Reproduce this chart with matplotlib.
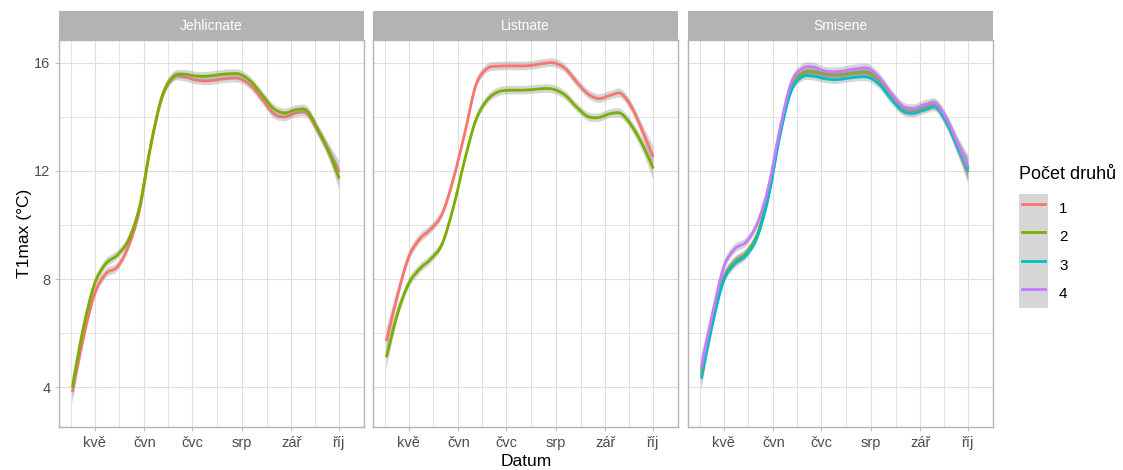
import numpy as np
import matplotlib
matplotlib.use("Agg")
import matplotlib.pyplot as plt
import matplotlib.dates as mdates
from matplotlib.lines import Line2D
from matplotlib.patches import Patch, PathPatch
from matplotlib.path import Path
from matplotlib.legend_handler import HandlerTuple, HandlerLine2D

plt.rcParams['font.family'] = ['Liberation Sans', 'DejaVu Sans']

# weekly read-offs of the smoothed curves
dates = np.array(['2021-04-17', '2021-04-24', '2021-05-01', '2021-05-08', '2021-05-15',
                  '2021-05-22', '2021-05-29', '2021-06-05', '2021-06-12', '2021-06-19',
                  '2021-06-26', '2021-07-03', '2021-07-10', '2021-07-17', '2021-07-24',
                  '2021-07-31', '2021-08-07', '2021-08-14', '2021-08-21', '2021-08-28',
                  '2021-09-04', '2021-09-11', '2021-09-18', '2021-09-25', '2021-10-01'],
                 dtype='datetime64[D]')

jehl_1 = [3.81, 5.85, 7.46, 8.20, 8.44, 9.19, 10.54, 12.90, 14.70, 15.45, 15.48, 15.37, 15.33,
          15.38, 15.43, 15.41, 15.14, 14.64, 14.12, 14.00, 14.15, 14.12, 13.44, 12.70, 11.96]
jehl_2 = [3.98, 6.22, 7.83, 8.57, 8.88, 9.43, 10.67, 12.94, 14.74, 15.48, 15.58, 15.52, 15.51,
          15.56, 15.60, 15.58, 15.30, 14.80, 14.31, 14.15, 14.27, 14.22, 13.50, 12.64, 11.72]

list_1 = [5.70, 7.40, 8.81, 9.49, 9.86, 10.42, 11.72, 13.38, 15.17, 15.79, 15.88, 15.89, 15.89,
          15.91, 15.98, 16.00, 15.79, 15.30, 14.86, 14.68, 14.80, 14.86, 14.31, 13.38, 12.52]
list_2 = [5.10, 6.72, 7.83, 8.38, 8.75, 9.31, 10.67, 12.40, 13.88, 14.62, 14.93, 14.99, 14.99,
          15.01, 15.05, 15.02, 14.80, 14.37, 14.02, 13.98, 14.12, 14.12, 13.63, 12.89, 12.09]

smis_1 = [4.60, 6.50, 8.05, 8.65, 8.95, 9.62, 11.10, 13.30, 15.00, 15.58, 15.63, 15.55, 15.52,
          15.56, 15.62, 15.60, 15.30, 14.74, 14.30, 14.22, 14.36, 14.42, 13.80, 12.88, 12.10]
smis_2 = [4.45, 6.45, 8.00, 8.62, 8.95, 9.65, 11.15, 13.35, 15.05, 15.62, 15.68, 15.60, 15.56,
          15.60, 15.65, 15.64, 15.32, 14.76, 14.30, 14.22, 14.35, 14.42, 13.80, 12.85, 12.05]
smis_3 = [4.31, 6.35, 7.95, 8.57, 8.88, 9.56, 11.04, 13.26, 14.93, 15.48, 15.51, 15.42, 15.38,
          15.43, 15.48, 15.46, 15.17, 14.64, 14.22, 14.15, 14.27, 14.35, 13.70, 12.77, 11.96]
smis_4 = [4.74, 6.72, 8.44, 9.12, 9.37, 10.05, 11.41, 13.51, 15.23, 15.79, 15.85, 15.70, 15.67,
          15.73, 15.79, 15.79, 15.42, 14.86, 14.40, 14.31, 14.46, 14.49, 13.88, 12.95, 12.15]

# half width of the confidence band
band = [0.45, 0.26, 0.19, 0.17, 0.16, 0.16, 0.16, 0.16, 0.16, 0.16, 0.16, 0.16, 0.16,
        0.16, 0.16, 0.16, 0.16, 0.16, 0.16, 0.16, 0.16, 0.17, 0.19, 0.26, 0.42]

facets = ['Jehlicnate', 'Listnate', 'Smisene']
facet_series = {
    'Jehlicnate': {'1': jehl_1, '2': jehl_2},
    'Listnate': {'1': list_1, '2': list_2},
    'Smisene': {'1': smis_1, '2': smis_2, '3': smis_3, '4': smis_4},
}
groups = ['1', '2', '3', '4']
colors = {'1': '#F8766D', '2': '#7CAE00', '3': '#00BFC4', '4': '#C77CFF'}

month_ticks = np.array(['2021-05-01', '2021-06-01', '2021-07-01', '2021-08-01',
                        '2021-09-01', '2021-10-01'], dtype='datetime64[D]')
month_labels = ['kvě', 'čvn', 'čvc', 'srp', 'zář', 'říj']
month_edges = np.array(['2021-04-01', '2021-05-01', '2021-06-01', '2021-07-01', '2021-08-01',
                        '2021-09-01', '2021-10-01', '2021-11-01'], dtype='datetime64[D]')
y_ticks = [4, 8, 12, 16]
y_minor = [6, 10, 14]


def to_num(d):
    return mdates.date2num(d.astype('datetime64[s]').astype(object))


def smooth(x, y):
    """Catmull-Rom through the points, as cubic bezier segments."""
    pts = np.column_stack([x, y])
    p = np.vstack([pts[0], pts, pts[-1]])
    verts = [pts[0]]
    codes = [Path.MOVETO]
    for i in range(len(pts) - 1):
        p0, p1, p2, p3 = p[i], p[i + 1], p[i + 2], p[i + 3]
        verts += [p1 + (p2 - p0) / 6, p2 - (p3 - p1) / 6, p2]
        codes += [Path.CURVE4] * 3
    return verts, codes


class ShortLine(HandlerLine2D):
    # legend key line a bit shorter than the grey key box
    def create_artists(self, legend, orig_handle, xdescent, ydescent, width, height,
                       fontsize, trans):
        pad = width * 0.1
        return super().create_artists(legend, orig_handle, xdescent - pad, ydescent,
                                      width - 2 * pad, height, fontsize, trans)


W, H = 1123, 470
fig = plt.figure(figsize=(W / 100, H / 100), dpi=100)

panel_left = [59, 373, 688]
panel_w = 305
top, bottom = 40, 427
strip_h = 29

x_num = to_num(dates)
span = x_num.max() - x_num.min()
xlim = (x_num.min() - 0.05 * span, x_num.max() + 0.05 * span)
edges_num = to_num(month_edges)
minor_x = (edges_num[:-1] + edges_num[1:]) / 2
ticks_num = to_num(month_ticks)

grid_c = '#DEDEDE'
frame_c = '#B3B3B3'
line_w = 2.0

for i, name in enumerate(facets):
    ax = fig.add_axes([panel_left[i] / W, 1 - bottom / H, panel_w / W, (bottom - top) / H])
    ax.set_xlim(*xlim)
    ax.set_ylim(2.52, 16.85)
    ax.set_xticks(ticks_num)
    ax.set_xticklabels(month_labels)
    ax.set_xticks(minor_x, minor=True)
    ax.set_yticks(y_ticks)
    ax.set_yticks(y_minor, minor=True)
    ax.grid(which='major', color=grid_c, lw=0.8)
    ax.grid(which='minor', color=grid_c, lw=0.6)
    ax.set_axisbelow(True)
    ax.tick_params(which='major', length=2.75, width=0.6, color=frame_c,
                   labelsize=10.5, labelcolor='#4D4D4D', pad=3.5)
    ax.tick_params(which='minor', length=0)
    if i > 0:
        ax.set_yticklabels([])
        ax.tick_params(axis='y', length=0)
    for s in ax.spines.values():
        s.set_color(frame_c)
        s.set_linewidth(1.0)

    for g, vals in facet_series[name].items():
        vals = np.array(vals)
        hw = np.array(band)
        up_v, up_c = smooth(x_num, vals + hw)
        lo_v, lo_c = smooth(x_num[::-1], (vals - hw)[::-1])
        lo_c[0] = Path.LINETO
        rib = Path(up_v + lo_v + [up_v[0]], up_c + lo_c + [Path.CLOSEPOLY])
        ax.add_patch(PathPatch(rib, facecolor='#999999', alpha=0.4, lw=0))
        lv, lc = smooth(x_num, vals)
        ax.add_patch(PathPatch(Path(lv, lc), fill=False, edgecolor=colors[g], lw=line_w))

    sax = fig.add_axes([panel_left[i] / W, 1 - top / H, panel_w / W, strip_h / H])
    sax.set_facecolor(frame_c)
    sax.set_xticks([])
    sax.set_yticks([])
    for s in sax.spines.values():
        s.set_visible(False)
    sax.text(0.5, 0.5, name, color='white', fontsize=10, ha='center', va='center',
             transform=sax.transAxes)

fig.text(25 / W, 1 - 233 / H, 'T1max (°C)', rotation=90, fontsize=12.5,
         ha='center', va='center')
fig.text(526 / W, 1 - 462 / H, 'Datum', fontsize=12.5, ha='center', va='center')

handles = [(Patch(facecolor='#D6D6D6', edgecolor='none'),
            Line2D([], [], color=colors[g], lw=line_w)) for g in groups]
leg = fig.legend(handles, groups,
                 handler_map={tuple: HandlerTuple(ndivide=1, pad=0), Line2D: ShortLine()},
                 loc='upper left', bbox_to_anchor=(1019 / W, 1 - 166 / H),
                 frameon=False, title='Počet druhů', title_fontsize=13, fontsize=11,
                 handlelength=1.87, handleheight=2.49, labelspacing=0,
                 handletextpad=0.75, borderpad=0, borderaxespad=0)
leg._legend_box.align = 'left'
leg._legend_box.sep = 8

fig.savefig('out.png', dpi=100)
